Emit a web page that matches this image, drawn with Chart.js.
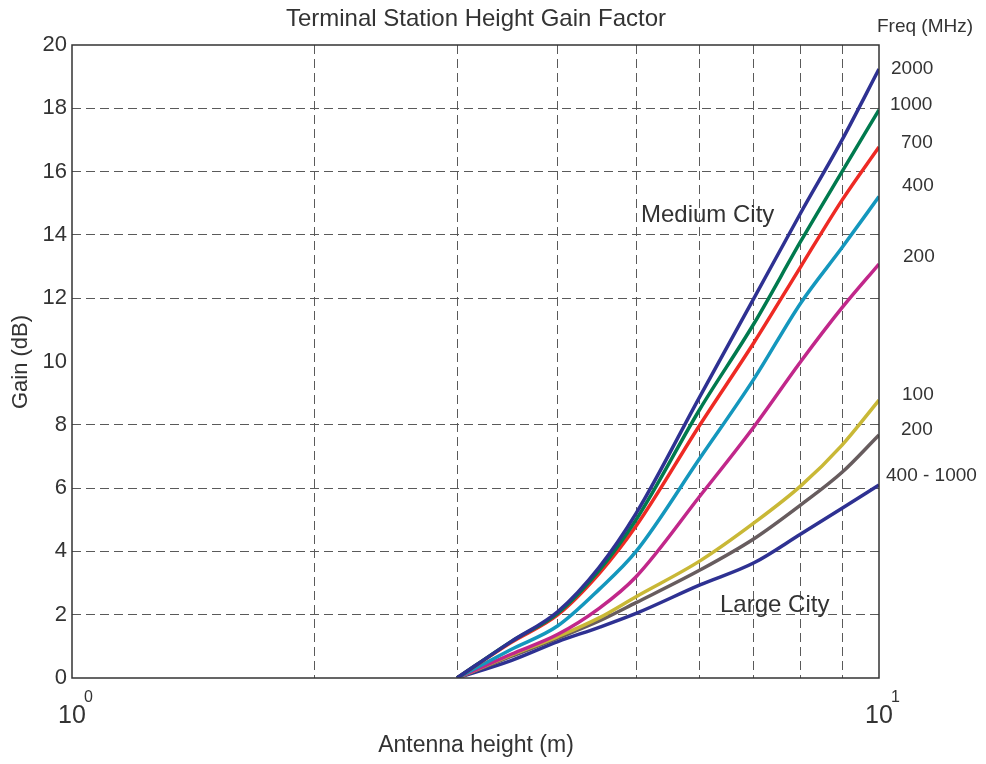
<!DOCTYPE html>
<html>
<head>
<meta charset="utf-8">
<title>Terminal Station Height Gain Factor</title>
<script src="https://cdn.jsdelivr.net/npm/chart.js@4.4.1/dist/chart.umd.min.js"></script>
<style>
  html, body { margin: 0; padding: 0; background: #fff; }
  #wrap { width: 986px; height: 764px; }
</style>
</head>
<body>
<div id="wrap"><canvas id="gainChart" width="986" height="764"></canvas></div>
<script>
var heights = [3, 3.5, 4, 4.5, 5, 6, 7, 8, 9, 10];

// medium city
var med2000 = [0, 1.15, 2.1, 3.5, 5.2, 8.9, 12.0, 14.7, 17.0, 19.24];
var med1000 = [0, 1.15, 2.05, 3.4, 5.0, 8.5, 11.2, 13.8, 16.0, 17.95];
var med700 = [0, 1.12, 2.0, 3.3, 4.8, 8.0, 10.6, 13.0, 15.1, 16.78];
var med400 = [0, 0.9, 1.65, 2.8, 4.0, 6.95, 9.45, 11.85, 13.6, 15.21];
var med200 = [0, 0.75, 1.38, 2.2, 3.2, 5.75, 7.94, 10.0, 11.7, 13.08];
// large city
var large100 = [0, 0.72, 1.31, 1.9, 2.57, 3.7, 4.9, 6.07, 7.36, 8.78];
var large200 = [0, 0.68, 1.26, 1.8, 2.38, 3.41, 4.4, 5.47, 6.5, 7.68];
var large400to1000 = [0, 0.55, 1.15, 1.6, 2.04, 2.94, 3.64, 4.55, 5.36, 6.1];

var xTicks = [1, 2, 3, 4, 5, 6, 7, 8, 9, 10];
var yTicks = [0, 2, 4, 6, 8, 10, 12, 14, 16, 18, 20];
var curveLabels = ['2000', '1000', '700', '400', '200', '100', '200', '400 - 1000'];
var curveColors = ['#2e3192', '#007a4e', '#ee2a24', '#1497bd', '#c1278a', '#c9b836', '#675c5e', '#2e3192'];

var allSeries = [med2000, med1000, med700, med400, med200, large100, large200, large400to1000];

var toPoints = function(vals) {
  var pts = [];
  heights.forEach(function(h, i) { pts.push({ x: h, y: vals[i] }); });
  return pts;
};

var datasets = [];
allSeries.forEach(function(s, i) {
  datasets.push({
    label: curveLabels[i],
    data: toPoints(s),
    borderColor: curveColors[i],
    backgroundColor: curveColors[i],
    borderWidth: 3.5,
    pointRadius: 0,
    fill: false,
    cubicInterpolationMode: 'monotone'
  });
});

var FONT = '"Liberation Sans", Arial, sans-serif';
var TXT = '#333333';

// text, frame and decade labels drawn on top of the chart
var decorations = {
  id: 'decorations',
  afterDraw: function(chart) {
    var ctx = chart.ctx;
    var a = chart.chartArea;
    ctx.save();

    // frame
    ctx.strokeStyle = '#333';
    ctx.lineWidth = 1.5;
    ctx.setLineDash([]);
    ctx.strokeRect(a.left, a.top, a.right - a.left, a.bottom - a.top);

    ctx.fillStyle = TXT;
    ctx.textBaseline = 'middle';

    // title
    ctx.textAlign = 'center';
    ctx.font = '24px ' + FONT;
    ctx.fillText('Terminal Station Height Gain Factor', 476, 19);

    // axis titles
    ctx.font = '23px ' + FONT;
    ctx.fillText('Antenna height (m)', 476, 746);
    ctx.save();
    ctx.translate(21, 362);
    ctx.rotate(-Math.PI / 2);
    ctx.font = '22px ' + FONT;
    ctx.fillText('Gain (dB)', 0, 0);
    ctx.restore();

    // decade labels 10^0 and 10^1
    var xs = chart.scales.x;
    [1, 10].forEach(function(v, i) {
      var px = xs.getPixelForValue(v);
      ctx.textAlign = 'left';
      ctx.textBaseline = 'alphabetic';
      ctx.font = '25px ' + FONT;
      ctx.fillText('10', px - 14, 723);
      ctx.font = '16px ' + FONT;
      ctx.fillText(String(i), px + 12, 702);
    });

    // region labels
    ctx.textBaseline = 'middle';
    ctx.textAlign = 'left';
    ctx.font = '24px ' + FONT;
    ctx.fillText('Medium City', 641, 215);
    ctx.fillText('Large City', 720, 605);

    // frequency labels
    ctx.font = '19px ' + FONT;
    ctx.fillText('Freq (MHz)', 877, 27);
    var labelX = [891, 890, 901, 902, 903, 902, 901, 886];
    var labelY = [69, 105, 143, 186, 257, 395, 430, 476];
    curveLabels.forEach(function(t, i) {
      ctx.fillText(t, labelX[i], labelY[i]);
    });

    ctx.restore();
  }
};

var gridColor = function(ctx) {
  var v = ctx.tick ? ctx.tick.value : null;
  if (v === 1 || v === 10 || v === 0 || v === 20) return 'rgba(0,0,0,0)';
  return '#5a5a5a';
};

var canvasGain = document.getElementById('gainChart').getContext('2d');
var gainChart = new Chart(canvasGain, {
  type: 'line',
  data: { datasets: datasets },
  options: {
    responsive: false,
    animation: false,
    layout: { padding: { top: 45, right: 107, left: 0, bottom: 0 } },
    plugins: {
      legend: { display: false },
      tooltip: { enabled: false },
      title: { display: false }
    },
    scales: {
      x: {
        type: 'logarithmic',
        min: 1,
        max: 10,
        afterFit: function(scale) { scale.height = 86; },
        afterBuildTicks: function(scale) {
          scale.ticks = xTicks.map(function(v) { return { value: v }; });
        },
        border: { display: false, dash: [9, 5] },
        grid: { color: gridColor, lineWidth: 1, drawTicks: false },
        ticks: { display: false, callback: function() { return ''; } }
      },
      y: {
        min: 0,
        max: 20,
        afterFit: function(scale) { scale.width = 72; },
        afterBuildTicks: function(scale) {
          scale.ticks = yTicks.map(function(v) { return { value: v }; });
        },
        border: { display: false, dash: [9, 5] },
        grid: { color: gridColor, lineWidth: 1, drawTicks: false },
        ticks: {
          padding: 5,
          color: TXT,
          font: { family: FONT, size: 22 }
        }
      }
    }
  },
  plugins: [decorations]
});
</script>
</body>
</html>
